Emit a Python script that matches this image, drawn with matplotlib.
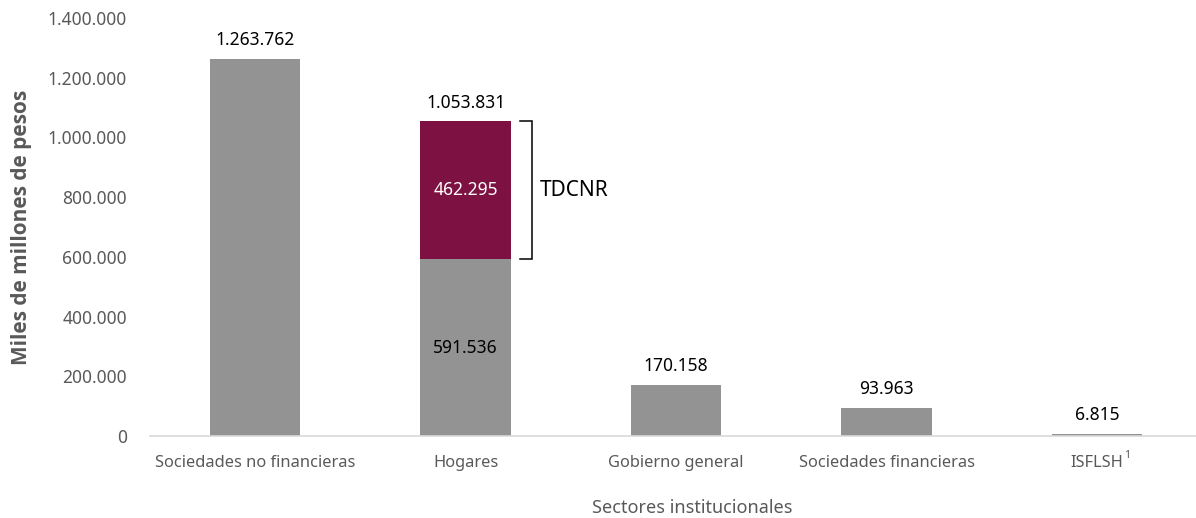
import matplotlib
matplotlib.use("Agg")
import matplotlib.pyplot as plt
import matplotlib.transforms as mtransforms

plt.rcParams['font.family'] = ['Noto Sans', 'DejaVu Sans']

sectores = ["Sociedades no financieras", "Hogares", "Gobierno general",
            "Sociedades financieras", "ISFLSH"]
valores = [1263762, 591536, 170158, 93963, 6815]
tdcnr = [0, 462295, 0, 0, 0]
totales = [1263762, 1053831, 170158, 93963, 6815]
yticks = [0, 200000, 400000, 600000, 800000, 1000000, 1200000, 1400000]

GRIS = "#939393"
GUINDA = "#7d1142"
TXT = "#595959"


def fmt(v):
    return "{:,.0f}".format(v).replace(",", ".")


fig = plt.figure(figsize=(11.96, 5.18), dpi=100)
ax = fig.add_axes([150 / 1196, 1 - 436 / 518, 1046 / 1196, (436 - 18) / 518])

x = list(range(len(sectores)))
w = 0.43
ax.bar(x, valores, width=w, color=GRIS, zorder=2)
ax.bar(x, tdcnr, width=w, bottom=valores, color=GUINDA, zorder=2)

# etiquetas de total sobre cada barra
for i in x:
    ax.annotate(fmt(totales[i]), (i, valores[i] + tdcnr[i]), xytext=(0, 7),
                textcoords="offset points", ha="center", va="bottom",
                fontsize=12.5, color="black")

# etiquetas dentro de Hogares
ax.text(1, valores[1] / 2, fmt(valores[1]), ha="center", va="center",
        fontsize=12.5, color="black", zorder=3)
ax.text(1, valores[1] + tdcnr[1] / 2, fmt(tdcnr[1]), ha="center", va="center",
        fontsize=12.5, color="white", zorder=3)

# corchete TDCNR
y0 = valores[1]
y1 = valores[1] + tdcnr[1]
bx0, bx1 = 1 + 0.257, 1 + 0.314
ax.plot([bx0, bx1, bx1, bx0], [y1, y1, y0, y0], color="black", lw=1.1,
        solid_joinstyle="miter", clip_on=False, zorder=3)
ax.text(1 + 0.352, (y0 + y1) / 2, "TDCNR", ha="left", va="center",
        fontsize=15, color="black")

ax.set_xlim(-0.5, 4.47)
ax.set_ylim(0, 1400000)
ax.set_yticks(yticks)
ax.set_yticklabels([fmt(v) for v in yticks], fontsize=12.5, color=TXT)
ax.set_xticks(x)
ax.set_xticklabels(sectores, fontsize=11.8, color=TXT)
ax.tick_params(axis="both", length=0)
ax.tick_params(axis="x", pad=14)
ax.tick_params(axis="y", pad=16.5)

# superindice de ISFLSH
trans = mtransforms.blended_transform_factory(ax.transData, fig.transFigure)
ax.text(4 + 0.13, 1 - 455 / 518, "1", transform=trans, fontsize=7.5,
        color=TXT, ha="left", va="center")

for s in ["top", "right", "left"]:
    ax.spines[s].set_visible(False)
ax.spines["bottom"].set_color("#d9d9d9")
ax.spines["bottom"].set_linewidth(1.2)

ax.set_ylabel("Miles de millones de pesos", fontsize=15, fontweight="bold",
              color=TXT, family=["Open Sans", "DejaVu Sans"], va="center")
ax.yaxis.set_label_coords(-(150 - 22) / 1046, 0.5)
ax.set_xlabel("Sectores institucionales", fontsize=13, color=TXT, va="center")
ax.xaxis.set_label_coords((692 - 150) / 1046, -(508 - 436) / 418)

fig.savefig("out.png", dpi=100)
